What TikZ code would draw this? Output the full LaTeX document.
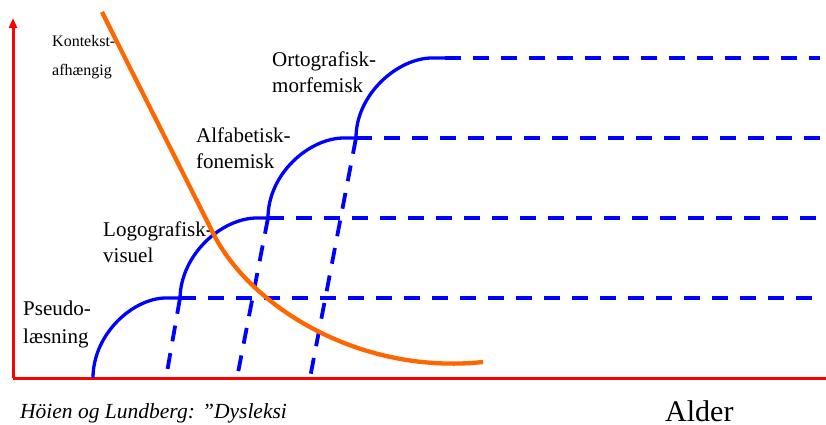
\documentclass[tikz,border=0pt]{standalone}
\usepackage{fontspec}
\setmainfont{Liberation Serif}
\usetikzlibrary{arrows.meta}
\definecolor{axisred}{RGB}{255,0,0}
\definecolor{stageblue}{RGB}{0,0,255}
\definecolor{ctxorange}{RGB}{255,102,0}
\begin{document}
\begin{tikzpicture}[x=1pt,y=-1pt,
  axisline/.style={draw=axisred,line width=3pt},
  stagecurve/.style={draw=stageblue,line width=3.3pt},
  stagedash/.style={draw=stageblue,line width=3.8pt,dash pattern=on 16pt off 12pt},
  ctxcurve/.style={draw=ctxorange,line width=4.3pt},
  lbl/.style={inner sep=0pt,anchor=base west,font=\fontsize{21}{26}\selectfont},
  smalllbl/.style={inner sep=0pt,anchor=base west,font=\fontsize{16}{20}\selectfont},
]
\useasboundingbox (0,0) rectangle (826,425);
% text
\node[smalllbl] (ktx1) at (52,47) {Kontekst-};
\node[smalllbl] (ktx2) at (52,76) {afhængig};
\node[lbl] (ort1) at (272,67) {Ortografisk-};
\node[lbl] (ort2) at (272,93) {morfemisk};
\node[lbl] (alf1) at (196,142) {Alfabetisk-};
\node[lbl] (alf2) at (196,168) {fonemisk};
\node[lbl] (log1) at (103,236) {Logografisk-};
\node[lbl] (log2) at (103,262) {visuel};
\node[lbl] (pse1) at (23,315) {Pseudo-};
\node[lbl] (pse2) at (23,343) {læsning};
\node[inner sep=0pt,anchor=base west,font=\fontsize{21.5}{26}\selectfont\itshape] (cite) at (20,418) {Höien og Lundberg: ”Dysleksi};
\node[inner sep=0pt,anchor=base west,font=\fontsize{30}{36}\selectfont] (alder) at (665,421) {Alder};
% axes
\coordinate (O) at (13,378);
\coordinate (Ytop) at (13,18);
\coordinate (Xend) at (826,378);
\draw[axisline,-{Triangle[length=10pt,width=8pt]}] (O) -- (Ytop);
\draw[axisline] (O) -- (Xend);
% stage points
\coordinate (s1) at (93,378);
\coordinate (e1) at (180,298);
\coordinate (e2) at (268,218);
\coordinate (e3) at (356,138);
\coordinate (e4) at (445,58);
\coordinate (h1) at (820,298);
\coordinate (h2) at (820,218);
\coordinate (h3) at (820,138);
\coordinate (h4) at (820,58);
\coordinate (b1) at (166,378);
\coordinate (b2) at (237,378);
\coordinate (b3) at (310,378);
% dashed lines
\draw[stagedash] (e1) -- (h1);
\draw[stagedash] (e2) -- (h2);
\draw[stagedash] (e3) -- (h3);
\draw[stagedash] (e4) -- (h4);
\draw[stagedash] (e1) -- (b1);
\draw[stagedash] (e2) -- (b2);
\draw[stagedash] (e3) -- (b3);
% stage arcs
\draw[stagecurve] (s1) .. controls (93,334) and (133,298) .. (166,298) -- (e1);
\draw[stagecurve] (e1) .. controls (181,254) and (222,218) .. (257,218) -- (e2);
\draw[stagecurve] (e2) .. controls (268,174) and (309,138) .. (344,138) -- (e3);
\draw[stagecurve] (e3) .. controls (356,94) and (398,58) .. (432,58) -- (e4);
% context curve
\coordinate (c0) at (102,12);
\coordinate (c1) at (213,233);
\coordinate (c2) at (483,362);
\draw[ctxcurve] (c0) .. controls (139,86) and (176,159) .. (c1)
  .. controls (250,307) and (360,375) .. (c2);
\end{tikzpicture}
\end{document}
